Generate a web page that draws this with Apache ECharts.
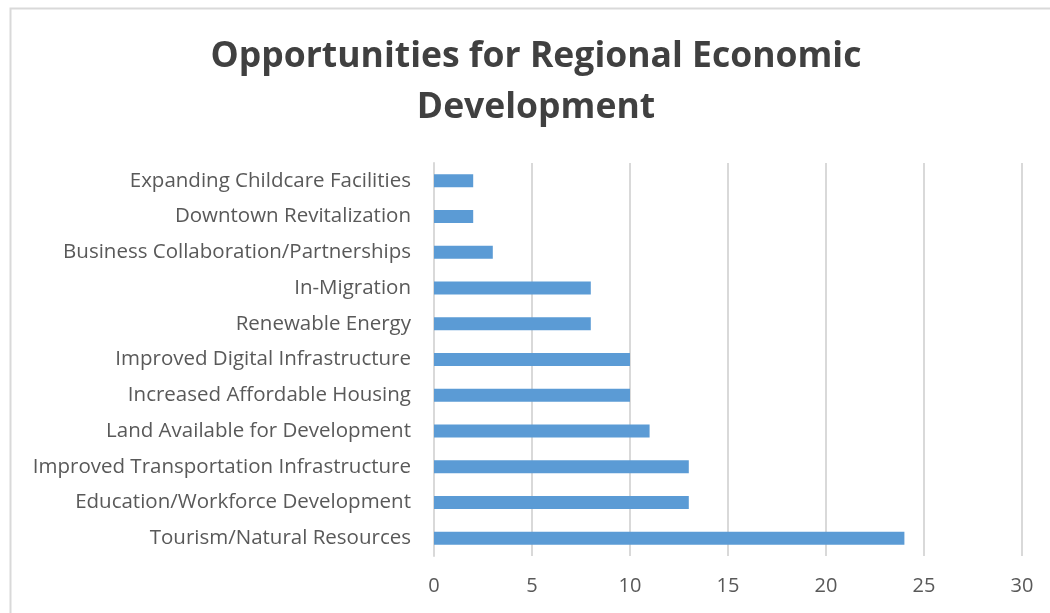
<!DOCTYPE html>
<html>
<head>
<meta charset="utf-8">
<script src="https://cdn.jsdelivr.net/npm/echarts@6/dist/echarts.min.js"></script>
<style>
  html, body { margin: 0; padding: 0; background: #fff; }
  #main { width: 1050px; height: 613px; }
</style>
</head>
<body>
<div id="main"></div>
<script>
// categories listed bottom to top (y category axis starts at the bottom)
var categories = [
  'Tourism/Natural Resources',
  'Education/Workforce Development',
  'Improved Transportation Infrastructure',
  'Land Available for Development',
  'Increased Affordable Housing',
  'Improved Digital Infrastructure',
  'Renewable Energy',
  'In-Migration',
  'Business Collaboration/Partnerships',
  'Downtown Revitalization',
  'Expanding Childcare Facilities'
]
var counts = [24, 13, 13, 11, 10, 10, 8, 8, 3, 2, 2]
var titleText = 'Opportunities for Regional Economic\nDevelopment'

var myChart = echarts.init(document.getElementById('main'))
var option = {
  animation: false,
  textStyle: { fontFamily: 'Open Sans' },
  title: {
    text: titleText,
    // with textAlign center the text is centred on left (+ padding)
    left: 531,
    top: 26,
    textAlign: 'center',
    textStyle: {
      fontFamily: 'Open Sans',
      fontSize: 35.5,
      fontWeight: 'bold',
      color: '#404040',
      lineHeight: 51
    }
  },
  graphic: [
    {
      type: 'rect',
      left: 8,
      top: 6,
      shape: { width: 1060, height: 620 },
      style: { fill: 'none', stroke: '#d9d9d9', lineWidth: 2 },
      silent: true
    }
  ],
  grid: {
    left: 434,
    right: 28,
    top: 163,
    bottom: 57
  },
  xAxis: {
    type: 'value',
    min: 0,
    max: 30,
    interval: 5,
    axisLine: { show: false },
    axisTick: { show: false },
    axisLabel: {
      color: '#595959',
      fontSize: 20,
      margin: 20
    },
    splitLine: {
      show: true,
      lineStyle: { color: '#d9d9d9', width: 2 }
    }
  },
  yAxis: {
    type: 'category',
    data: categories,
    axisLine: { show: true, lineStyle: { color: '#d9d9d9', width: 2 } },
    axisTick: { show: false },
    axisLabel: {
      color: '#595959',
      fontSize: 20.5,
      margin: 23
    }
  },
  series: [
    {
      type: 'bar',
      data: counts,
      barWidth: 13,
      itemStyle: { color: '#5b9bd5' }
    }
  ]
}
myChart.setOption(option)
</script>
</body>
</html>
